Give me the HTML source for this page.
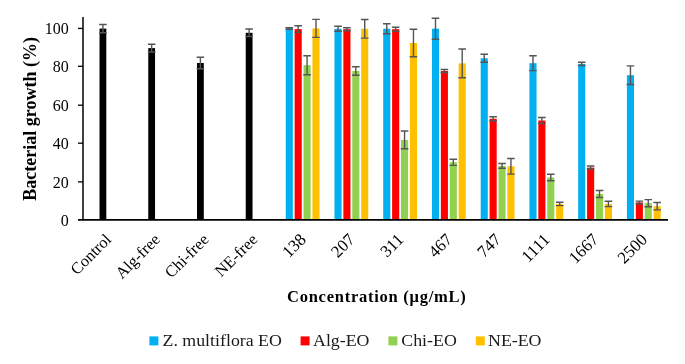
<!DOCTYPE html>
<html><head><meta charset="utf-8"><style>
html,body{margin:0;padding:0;background:#fff;}
body{width:685px;height:364px;overflow:hidden;}
svg{display:block;will-change:transform;}
.t{font-family:"Liberation Serif",serif;font-size:16px;fill:#000;}
.xl{font-size:17px;}
.xw{font-size:16.3px;}
.lg{font-size:15.8px;fill:#1a1a1a;}
.b{font-family:"Liberation Serif",serif;font-weight:bold;fill:#000;}
.yt{font-size:18px;}
.xt{font-size:16.5px;letter-spacing:0.75px;}
</style></head><body>
<svg width="685" height="364" viewBox="0 0 685 364">
<rect x="679" y="0" width="6" height="364" fill="#fcfcfc"/>
<rect x="99.52" y="28.6" width="6.8" height="191.3" fill="#000000"/>
<path d="M102.92 24.5V32.7M99.12 24.5H106.72M99.12 32.7H106.72" stroke="#555555" stroke-width="1.4" fill="none"/>
<rect x="148.26" y="48.1" width="6.8" height="171.8" fill="#000000"/>
<path d="M151.66 44.2V52M147.86 44.2H155.46M147.86 52H155.46" stroke="#555555" stroke-width="1.4" fill="none"/>
<rect x="197" y="63" width="6.8" height="156.9" fill="#000000"/>
<path d="M200.4 57.2V68.8M196.6 57.2H204.2M196.6 68.8H204.2" stroke="#555555" stroke-width="1.4" fill="none"/>
<rect x="245.74" y="32.8" width="6.8" height="187.1" fill="#000000"/>
<path d="M249.14 29.05V36.55M245.34 29.05H252.94M245.34 36.55H252.94" stroke="#555555" stroke-width="1.4" fill="none"/>
<rect x="285.73" y="28.4" width="7.1" height="191.5" fill="#00B0F0"/>
<path d="M289.28 27.6V29.2M285.48 27.6H293.08M285.48 29.2H293.08" stroke="#555555" stroke-width="1.4" fill="none"/>
<rect x="294.63" y="29.1" width="7.1" height="190.8" fill="#FF0000"/>
<path d="M298.18 25.8V32.4M294.38 25.8H301.98M294.38 32.4H301.98" stroke="#555555" stroke-width="1.4" fill="none"/>
<rect x="303.53" y="65.2" width="7.1" height="154.7" fill="#92D050"/>
<path d="M307.08 55.7V74.7M303.28 55.7H310.88M303.28 74.7H310.88" stroke="#555555" stroke-width="1.4" fill="none"/>
<rect x="312.43" y="28.4" width="7.1" height="191.5" fill="#FFC000"/>
<path d="M315.98 19.4V37.4M312.18 19.4H319.78M312.18 37.4H319.78" stroke="#555555" stroke-width="1.4" fill="none"/>
<rect x="334.47" y="28.8" width="7.1" height="191.1" fill="#00B0F0"/>
<path d="M338.02 26.3V31.3M334.22 26.3H341.82M334.22 31.3H341.82" stroke="#555555" stroke-width="1.4" fill="none"/>
<rect x="343.37" y="29.2" width="7.1" height="190.7" fill="#FF0000"/>
<path d="M346.92 27.7V30.7M343.12 27.7H350.72M343.12 30.7H350.72" stroke="#555555" stroke-width="1.4" fill="none"/>
<rect x="352.27" y="71" width="7.1" height="148.9" fill="#92D050"/>
<path d="M355.82 66.7V75.3M352.02 66.7H359.62M352.02 75.3H359.62" stroke="#555555" stroke-width="1.4" fill="none"/>
<rect x="361.17" y="28.8" width="7.1" height="191.1" fill="#FFC000"/>
<path d="M364.72 19.5V38.1M360.92 19.5H368.52M360.92 38.1H368.52" stroke="#555555" stroke-width="1.4" fill="none"/>
<rect x="383.21" y="28.7" width="7.1" height="191.2" fill="#00B0F0"/>
<path d="M386.76 23.7V33.7M382.96 23.7H390.56M382.96 33.7H390.56" stroke="#555555" stroke-width="1.4" fill="none"/>
<rect x="392.11" y="29.2" width="7.1" height="190.7" fill="#FF0000"/>
<path d="M395.66 27.2V31.2M391.86 27.2H399.46M391.86 31.2H399.46" stroke="#555555" stroke-width="1.4" fill="none"/>
<rect x="401.01" y="139.9" width="7.1" height="80" fill="#92D050"/>
<path d="M404.56 131V148.8M400.76 131H408.36M400.76 148.8H408.36" stroke="#555555" stroke-width="1.4" fill="none"/>
<rect x="409.91" y="43" width="7.1" height="176.9" fill="#FFC000"/>
<path d="M413.46 29.2V56.8M409.66 29.2H417.26M409.66 56.8H417.26" stroke="#555555" stroke-width="1.4" fill="none"/>
<rect x="431.95" y="28.7" width="7.1" height="191.2" fill="#00B0F0"/>
<path d="M435.5 18.2V39.2M431.7 18.2H439.3M431.7 39.2H439.3" stroke="#555555" stroke-width="1.4" fill="none"/>
<rect x="440.85" y="71" width="7.1" height="148.9" fill="#FF0000"/>
<path d="M444.4 69.5V72.5M440.6 69.5H448.2M440.6 72.5H448.2" stroke="#555555" stroke-width="1.4" fill="none"/>
<rect x="449.75" y="162.3" width="7.1" height="57.6" fill="#92D050"/>
<path d="M453.3 159.2V165.4M449.5 159.2H457.1M449.5 165.4H457.1" stroke="#555555" stroke-width="1.4" fill="none"/>
<rect x="458.65" y="63.4" width="7.1" height="156.5" fill="#FFC000"/>
<path d="M462.2 49V77.8M458.4 49H466M458.4 77.8H466" stroke="#555555" stroke-width="1.4" fill="none"/>
<rect x="480.69" y="58.3" width="7.1" height="161.6" fill="#00B0F0"/>
<path d="M484.24 54.3V62.3M480.44 54.3H488.04M480.44 62.3H488.04" stroke="#555555" stroke-width="1.4" fill="none"/>
<rect x="489.59" y="118.8" width="7.1" height="101.1" fill="#FF0000"/>
<path d="M493.14 116.8V120.8M489.34 116.8H496.94M489.34 120.8H496.94" stroke="#555555" stroke-width="1.4" fill="none"/>
<rect x="498.49" y="165.9" width="7.1" height="54" fill="#92D050"/>
<path d="M502.04 163.5V168.3M498.24 163.5H505.84M498.24 168.3H505.84" stroke="#555555" stroke-width="1.4" fill="none"/>
<rect x="507.39" y="166.3" width="7.1" height="53.6" fill="#FFC000"/>
<path d="M510.94 158.5V174.1M507.14 158.5H514.74M507.14 174.1H514.74" stroke="#555555" stroke-width="1.4" fill="none"/>
<rect x="529.43" y="63.2" width="7.1" height="156.7" fill="#00B0F0"/>
<path d="M532.98 55.8V70.6M529.18 55.8H536.78M529.18 70.6H536.78" stroke="#555555" stroke-width="1.4" fill="none"/>
<rect x="538.33" y="120.5" width="7.1" height="99.4" fill="#FF0000"/>
<path d="M541.88 117.5V123.5M538.08 117.5H545.68M538.08 123.5H545.68" stroke="#555555" stroke-width="1.4" fill="none"/>
<rect x="547.23" y="177.5" width="7.1" height="42.4" fill="#92D050"/>
<path d="M550.78 174.3V180.7M546.98 174.3H554.58M546.98 180.7H554.58" stroke="#555555" stroke-width="1.4" fill="none"/>
<rect x="556.13" y="203.9" width="7.1" height="16" fill="#FFC000"/>
<path d="M559.68 202.2V205.6M555.88 202.2H563.48M555.88 205.6H563.48" stroke="#555555" stroke-width="1.4" fill="none"/>
<rect x="578.17" y="63.9" width="7.1" height="156" fill="#00B0F0"/>
<path d="M581.72 62.3V65.5M577.92 62.3H585.52M577.92 65.5H585.52" stroke="#555555" stroke-width="1.4" fill="none"/>
<rect x="587.07" y="167.6" width="7.1" height="52.3" fill="#FF0000"/>
<path d="M590.62 166V169.2M586.82 166H594.42M586.82 169.2H594.42" stroke="#555555" stroke-width="1.4" fill="none"/>
<rect x="595.97" y="194" width="7.1" height="25.9" fill="#92D050"/>
<path d="M599.52 190.5V197.5M595.72 190.5H603.32M595.72 197.5H603.32" stroke="#555555" stroke-width="1.4" fill="none"/>
<rect x="604.87" y="203.9" width="7.1" height="16" fill="#FFC000"/>
<path d="M608.42 201.2V206.6M604.62 201.2H612.22M604.62 206.6H612.22" stroke="#555555" stroke-width="1.4" fill="none"/>
<rect x="626.91" y="75.2" width="7.1" height="144.7" fill="#00B0F0"/>
<path d="M630.46 65.9V84.5M626.66 65.9H634.26M626.66 84.5H634.26" stroke="#555555" stroke-width="1.4" fill="none"/>
<rect x="635.81" y="202.4" width="7.1" height="17.5" fill="#FF0000"/>
<path d="M639.36 201.1V203.7M635.56 201.1H643.16M635.56 203.7H643.16" stroke="#555555" stroke-width="1.4" fill="none"/>
<rect x="644.71" y="203.2" width="7.1" height="16.7" fill="#92D050"/>
<path d="M648.26 199.6V206.8M644.46 199.6H652.06M644.46 206.8H652.06" stroke="#555555" stroke-width="1.4" fill="none"/>
<rect x="653.61" y="206.2" width="7.1" height="13.7" fill="#FFC000"/>
<path d="M657.16 202.5V209.9M653.36 202.5H660.96M653.36 209.9H660.96" stroke="#555555" stroke-width="1.4" fill="none"/>
<path d="M83 17V220.35" stroke="#000" stroke-width="1.5" fill="none"/>
<path d="M78 219.9H668" stroke="#000" stroke-width="1.8" fill="none"/>
<path d="M78 181.9H83" stroke="#000" stroke-width="1.3" fill="none"/>
<path d="M78 143.2H83" stroke="#000" stroke-width="1.3" fill="none"/>
<path d="M78 105.2H83" stroke="#000" stroke-width="1.3" fill="none"/>
<path d="M78 66.3H83" stroke="#000" stroke-width="1.3" fill="none"/>
<path d="M78 28.44H83" stroke="#000" stroke-width="1.3" fill="none"/>
<text x="68.8" y="225.8" text-anchor="end" class="t">0</text>
<text x="68.8" y="187.8" text-anchor="end" class="t">20</text>
<text x="68.8" y="149.1" text-anchor="end" class="t">40</text>
<text x="68.8" y="111.1" text-anchor="end" class="t">60</text>
<text x="68.8" y="72.2" text-anchor="end" class="t">80</text>
<text x="68.8" y="34.34" text-anchor="end" class="t">100</text>
<text transform="translate(112.17 240.5) rotate(-45)" x="0" y="0" text-anchor="end" class="t xw">Control</text>
<text transform="translate(160.91 240.5) rotate(-45)" x="0" y="0" text-anchor="end" class="t xw">Alg-free</text>
<text transform="translate(209.65 240.5) rotate(-45)" x="0" y="0" text-anchor="end" class="t xw">Chi-free</text>
<text transform="translate(258.39 240.5) rotate(-45)" x="0" y="0" text-anchor="end" class="t xw">NE-free</text>
<text transform="translate(307.13 240.5) rotate(-45)" x="0" y="0" text-anchor="end" class="t xl">138</text>
<text transform="translate(355.87 240.5) rotate(-45)" x="0" y="0" text-anchor="end" class="t xl">207</text>
<text transform="translate(404.61 240.5) rotate(-45)" x="0" y="0" text-anchor="end" class="t xl">311</text>
<text transform="translate(453.35 240.5) rotate(-45)" x="0" y="0" text-anchor="end" class="t xl">467</text>
<text transform="translate(502.09 240.5) rotate(-45)" x="0" y="0" text-anchor="end" class="t xl">747</text>
<text transform="translate(550.83 240.5) rotate(-45)" x="0" y="0" text-anchor="end" class="t xl">1111</text>
<text transform="translate(599.57 240.5) rotate(-45)" x="0" y="0" text-anchor="end" class="t xl">1667</text>
<text transform="translate(648.31 240.5) rotate(-45)" x="0" y="0" text-anchor="end" class="t xl">2500</text>
<text transform="translate(36.2 118.9) rotate(-90)" text-anchor="middle" class="b yt">Bacterial growth (%)</text>
<text x="287.0" y="301.8" class="b xt">Concentration (&#956;g/mL)</text>
<rect x="149.4" y="336.4" width="9" height="9" fill="#00B0F0"/>
<text transform="translate(162.5 346.3) scale(1.13 1)" class="t lg">Z. multiflora EO</text>
<rect x="300.6" y="336.4" width="9" height="9" fill="#FF0000"/>
<text transform="translate(313 346.3) scale(1.13 1)" class="t lg">Alg-EO</text>
<rect x="388.4" y="336.4" width="9" height="9" fill="#92D050"/>
<text transform="translate(401.3 346.3) scale(1.13 1)" class="t lg">Chi-EO</text>
<rect x="475.8" y="336.4" width="9" height="9" fill="#FFC000"/>
<text transform="translate(488 346.3) scale(1.13 1)" class="t lg">NE-EO</text>
</svg>
</body></html>
